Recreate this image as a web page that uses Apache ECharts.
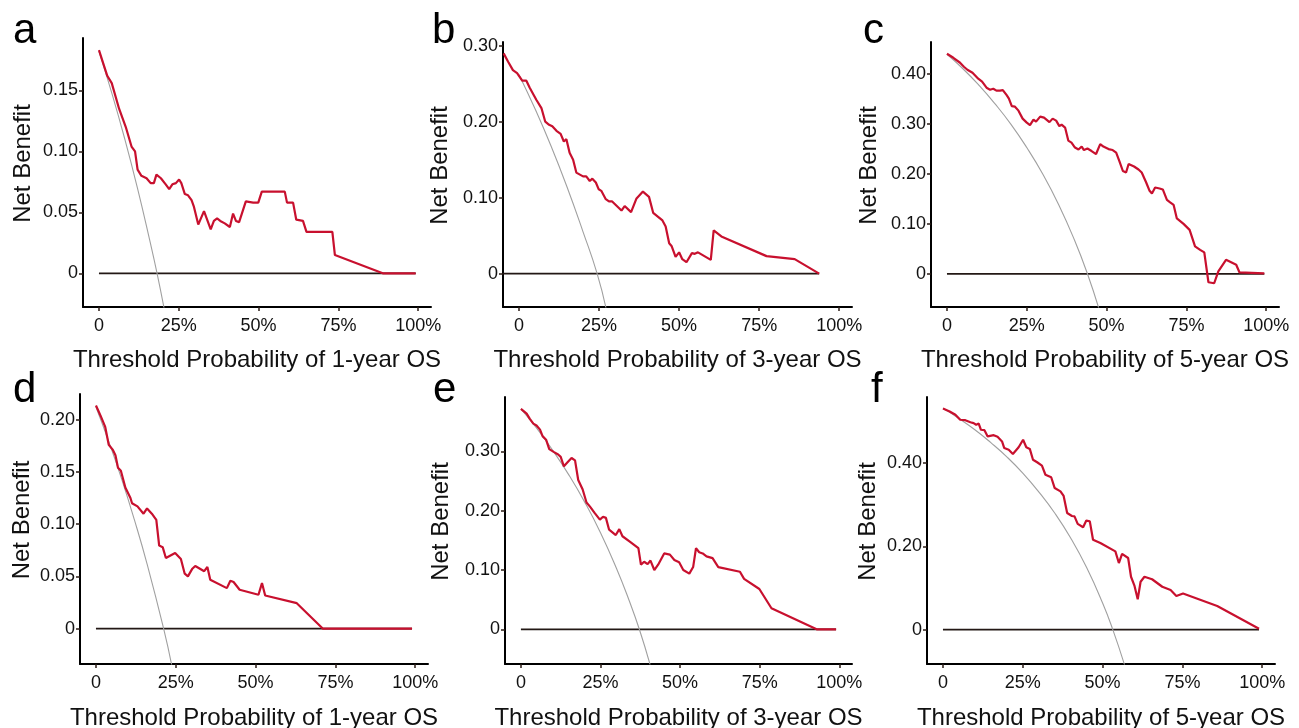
<!DOCTYPE html>
<html>
<head>
<meta charset="utf-8">
<script src="https://cdn.jsdelivr.net/npm/echarts@6/dist/echarts.min.js"></script>
<style>
  html, body { margin: 0; padding: 0; background: #fff; }
  #main { width: 1299px; height: 728px; }
</style>
</head>
<body>
<div id="main"></div>
<script>
// x = threshold probability, y = net benefit
var xTicks = [0, 0.25, 0.5, 0.75, 1];

var yTicksA = [0, 0.05, 0.10, 0.15];
var modelA = [[0,0.183],[0.026,0.162],[0.040,0.156],[0.063,0.135],[0.084,0.120],[0.102,0.104],[0.113,0.100],[0.121,0.085],[0.133,0.080],[0.149,0.078],[0.162,0.074],[0.172,0.074],[0.180,0.081],[0.194,0.078],[0.209,0.073],[0.220,0.069],[0.230,0.073],[0.241,0.074],[0.251,0.077],[0.258,0.074],[0.269,0.065],[0.279,0.064],[0.290,0.060],[0.297,0.055],[0.311,0.040],[0.329,0.051],[0.350,0.036],[0.360,0.043],[0.370,0.045],[0.380,0.043],[0.394,0.041],[0.410,0.038],[0.420,0.049],[0.429,0.043],[0.439,0.042],[0.460,0.059],[0.483,0.058],[0.499,0.058],[0.510,0.067],[0.582,0.067],[0.589,0.058],[0.608,0.058],[0.618,0.044],[0.639,0.043],[0.650,0.034],[0.731,0.034],[0.739,0.015],[0.889,0],[0.992,0]];
var allA = [[0,0.182],[0.04,0.148],[0.08,0.111],[0.12,0.0705],[0.16,0.026],[0.182,0],[0.205,-0.03]];
var noneA = [[0,0],[0.992,0]];

var yTicksB = [0, 0.1, 0.2, 0.3];
var modelB = [[-0.048,0.290],[-0.034,0.279],[-0.019,0.268],[-0.006,0.264],[0.010,0.254],[0.023,0.254],[0.033,0.245],[0.054,0.229],[0.070,0.218],[0.082,0.200],[0.094,0.196],[0.104,0.194],[0.117,0.188],[0.130,0.184],[0.140,0.174],[0.148,0.177],[0.158,0.159],[0.169,0.150],[0.179,0.133],[0.200,0.128],[0.210,0.128],[0.221,0.122],[0.229,0.125],[0.240,0.120],[0.249,0.111],[0.257,0.109],[0.271,0.098],[0.281,0.095],[0.291,0.095],[0.320,0.083],[0.330,0.089],[0.350,0.081],[0.367,0.099],[0.387,0.108],[0.406,0.101],[0.419,0.080],[0.448,0.070],[0.458,0.062],[0.469,0.040],[0.477,0.036],[0.489,0.022],[0.500,0.028],[0.510,0.019],[0.523,0.015],[0.529,0.015],[0.540,0.027],[0.549,0.026],[0.559,0.028],[0.599,0.018],[0.608,0.057],[0.632,0.049],[0.773,0.023],[0.861,0.019],[0.9375,0]];
var allB = [[0,0.262],[0.05,0.217],[0.10,0.168],[0.15,0.114],[0.20,0.055],[0.244,0],[0.272,-0.046]];
var noneB = [[-0.05,0],[0.9375,0]];

var yTicksC = [0, 0.1, 0.2, 0.3, 0.4];
var modelC = [[0,0.441],[0.020,0.433],[0.041,0.423],[0.053,0.415],[0.064,0.409],[0.080,0.403],[0.098,0.391],[0.110,0.385],[0.124,0.373],[0.135,0.369],[0.145,0.371],[0.155,0.367],[0.166,0.367],[0.175,0.368],[0.187,0.358],[0.194,0.351],[0.203,0.336],[0.213,0.335],[0.224,0.327],[0.237,0.311],[0.250,0.303],[0.260,0.298],[0.271,0.309],[0.279,0.305],[0.292,0.315],[0.304,0.313],[0.321,0.304],[0.331,0.311],[0.342,0.307],[0.352,0.296],[0.359,0.299],[0.370,0.293],[0.380,0.267],[0.390,0.263],[0.401,0.253],[0.412,0.249],[0.422,0.255],[0.429,0.248],[0.440,0.251],[0.453,0.246],[0.467,0.240],[0.480,0.260],[0.490,0.255],[0.506,0.250],[0.519,0.248],[0.530,0.243],[0.540,0.226],[0.551,0.206],[0.561,0.203],[0.569,0.220],[0.586,0.215],[0.600,0.209],[0.610,0.203],[0.624,0.183],[0.634,0.167],[0.642,0.161],[0.652,0.173],[0.666,0.171],[0.676,0.169],[0.689,0.148],[0.699,0.143],[0.710,0.138],[0.720,0.111],[0.741,0.100],[0.760,0.088],[0.777,0.055],[0.793,0.048],[0.806,0.043],[0.819,-0.017],[0.837,-0.019],[0.850,0.005],[0.874,0.028],[0.906,0.018],[0.916,0.003],[0.994,0.001]];
var allC = [[0,0.44],[0.05,0.411],[0.10,0.378],[0.15,0.341],[0.20,0.30],[0.25,0.253],[0.30,0.20],[0.35,0.1385],[0.40,0.0667],[0.44,0],[0.476,-0.07]];
var noneC = [[0,0],[0.994,0]];

var yTicksD = [0, 0.05, 0.10, 0.15, 0.20];
var modelD = [[0,0.2135],[0.014,0.204],[0.029,0.193],[0.040,0.176],[0.053,0.171],[0.061,0.166],[0.069,0.154],[0.078,0.151],[0.092,0.135],[0.108,0.125],[0.113,0.120],[0.130,0.117],[0.149,0.110],[0.160,0.115],[0.175,0.110],[0.189,0.104],[0.198,0.0795],[0.209,0.078],[0.219,0.0676],[0.248,0.0724],[0.266,0.0667],[0.278,0.0526],[0.288,0.050],[0.301,0.057],[0.311,0.060],[0.339,0.055],[0.349,0.059],[0.358,0.0468],[0.410,0.0388],[0.421,0.0458],[0.431,0.0446],[0.450,0.0372],[0.509,0.0324],[0.520,0.0436],[0.530,0.0317],[0.629,0.0244],[0.711,0],[0.990,0]];
var allD = [[0,0.212],[0.04,0.179],[0.08,0.1435],[0.12,0.1045],[0.16,0.062],[0.212,0],[0.238,-0.036]];
var noneD = [[0,0],[0.99,0]];

var yTicksE = [0, 0.1, 0.2, 0.3];
var modelE = [[0,0.372],[0.018,0.364],[0.028,0.355],[0.039,0.347],[0.049,0.344],[0.060,0.337],[0.068,0.326],[0.079,0.320],[0.089,0.304],[0.104,0.299],[0.117,0.295],[0.125,0.291],[0.135,0.275],[0.145,0.281],[0.159,0.289],[0.170,0.285],[0.180,0.252],[0.194,0.236],[0.206,0.214],[0.217,0.207],[0.232,0.196],[0.248,0.185],[0.258,0.190],[0.267,0.188],[0.277,0.168],[0.298,0.159],[0.309,0.169],[0.319,0.157],[0.342,0.148],[0.369,0.137],[0.377,0.109],[0.387,0.114],[0.398,0.110],[0.407,0.116],[0.419,0.100],[0.431,0.109],[0.450,0.128],[0.468,0.126],[0.482,0.117],[0.497,0.113],[0.510,0.100],[0.529,0.094],[0.541,0.105],[0.550,0.137],[0.560,0.130],[0.571,0.128],[0.583,0.123],[0.602,0.120],[0.620,0.105],[0.688,0.097],[0.701,0.085],[0.749,0.068],[0.787,0.0355],[0.929,0],[0.990,0]];
var allE = [[0,0.372],[0.05,0.339],[0.10,0.302],[0.15,0.261],[0.20,0.215],[0.25,0.163],[0.30,0.103],[0.34,0.0485],[0.372,0],[0.406,-0.06]];
var noneE = [[0,0],[0.99,0]];

var yTicksF = [0, 0.2, 0.4];
var modelF = [[0,0.531],[0.021,0.524],[0.039,0.516],[0.054,0.504],[0.070,0.503],[0.086,0.498],[0.096,0.496],[0.104,0.492],[0.112,0.495],[0.119,0.480],[0.130,0.479],[0.140,0.464],[0.159,0.467],[0.171,0.463],[0.185,0.452],[0.192,0.436],[0.206,0.432],[0.219,0.422],[0.237,0.438],[0.251,0.456],[0.261,0.438],[0.272,0.434],[0.282,0.408],[0.295,0.402],[0.310,0.394],[0.321,0.372],[0.339,0.366],[0.350,0.340],[0.368,0.332],[0.378,0.321],[0.389,0.280],[0.404,0.273],[0.412,0.272],[0.422,0.254],[0.439,0.246],[0.449,0.262],[0.460,0.260],[0.470,0.216],[0.493,0.208],[0.540,0.188],[0.551,0.160],[0.561,0.182],[0.580,0.172],[0.589,0.127],[0.600,0.105],[0.610,0.073],[0.619,0.115],[0.631,0.127],[0.655,0.121],[0.687,0.103],[0.713,0.095],[0.731,0.081],[0.752,0.087],[0.859,0.057],[0.990,0.002]];
var allF = [[0,0.532],[0.05,0.507],[0.10,0.48],[0.15,0.449],[0.20,0.415],[0.25,0.376],[0.30,0.331],[0.35,0.28],[0.40,0.22],[0.45,0.149],[0.50,0.064],[0.532,0],[0.569,-0.085]];
var noneF = [[0,0],[0.99,0]];

var panels = [
  { letter: 'a', lx: 13,  ly: 31,  grid: { left: 83,  top: 38,  width: 348, height: 269 }, y: [-0.0276, 0.193], yTicks: yTicksA, model: modelA, all: allA, none: noneA, yr: '1-year', gap: 48, xgap: 41 },
  { letter: 'b', lx: 432, ly: 31,  grid: { left: 503, top: 42,  width: 349, height: 265 }, y: [-0.044, 0.305],  yTicks: yTicksB, model: modelB, all: allB, none: noneB, yr: '3-year', gap: 51, xgap: 41 },
  { letter: 'c', lx: 863, ly: 31,  grid: { left: 931, top: 42,  width: 348, height: 265 }, y: [-0.0666, 0.4646], yTicks: yTicksC, model: modelC, all: allC, none: noneC, yr: '5-year', gap: 50, xgap: 41 },
  { letter: 'd', lx: 13,  ly: 390, grid: { left: 80,  top: 394, width: 348, height: 270 }, y: [-0.0338, 0.2245], yTicks: yTicksD, model: modelD, all: allD, none: noneD, yr: '1-year', gap: 46, xgap: 42 },
  { letter: 'e', lx: 433, ly: 390, grid: { left: 505, top: 397, width: 347, height: 267 }, y: [-0.0586, 0.392],  yTicks: yTicksE, model: modelE, all: allE, none: noneE, yr: '3-year', gap: 52, xgap: 42 },
  { letter: 'f', lx: 871, ly: 390, grid: { left: 927, top: 397, width: 348, height: 267 }, y: [-0.0825, 0.5587], yTicks: yTicksF, model: modelF, all: allF, none: noneF, yr: '5-year', gap: 47, xgap: 42 }
];

var FONT = '"Liberation Sans", Arial, sans-serif';
var TXT = '#111';

var grids = [], xAxes = [], yAxes = [], series = [], graphics = [];

panels.forEach(function (p, i) {
  grids.push(Object.assign({ outerBoundsMode: 'none', containLabel: false }, p.grid));
  xAxes.push({
    type: 'value', gridIndex: i, min: -0.05, max: 1.04,
    name: 'Threshold Probability of ' + p.yr + ' OS',
    nameLocation: 'middle', nameGap: p.xgap,
    nameTextStyle: { fontFamily: FONT, fontSize: 24, color: TXT },
    axisLine: { show: true, onZero: false, lineStyle: { color: '#000', width: 2 } },
    axisTick: { show: true, length: 4, customValues: xTicks, lineStyle: { color: '#2b1d16', width: 1.5 } },
    axisLabel: {
      customValues: xTicks, margin: 10, fontFamily: FONT, fontSize: 18, color: TXT,
      formatter: function (v) { return v === 0 ? '0' : Math.round(v * 100) + '%'; }
    },
    splitLine: { show: false }
  });
  yAxes.push({
    type: 'value', gridIndex: i, min: p.y[0], max: p.y[1],
    name: 'Net Benefit', nameLocation: 'middle', nameGap: p.gap,
    nameTextStyle: { fontFamily: FONT, fontSize: 24, color: TXT, padding: [0, 0, 0, 18] },
    axisLine: { show: true, onZero: false, lineStyle: { color: '#000', width: 2 } },
    axisTick: { show: true, length: 4, customValues: p.yTicks, lineStyle: { color: '#2b1d16', width: 1.5 } },
    axisLabel: {
      customValues: p.yTicks, margin: 5, fontFamily: FONT, fontSize: 18, color: TXT,
      formatter: function (v) { return v === 0 ? '0' : v.toFixed(2); }
    },
    splitLine: { show: false }
  });
  series.push({
    type: 'line', xAxisIndex: i, yAxisIndex: i, data: p.none, showSymbol: false, silent: true,
    lineStyle: { color: '#231815', width: 1.8 }, z: 2
  });
  series.push({
    type: 'line', xAxisIndex: i, yAxisIndex: i, data: p.all, showSymbol: false, smooth: true, silent: true,
    lineStyle: { color: '#a0a0a0', width: 1.1 }, z: 3
  });
  series.push({
    type: 'line', xAxisIndex: i, yAxisIndex: i, data: p.model, showSymbol: false, silent: true,
    lineStyle: { color: '#c8102e', width: 2.2 }, z: 4
  });
  graphics.push({
    type: 'text', left: p.lx, top: p.ly - 21,
    style: { text: p.letter, font: '42px ' + FONT, fill: '#000' }
  });
});

var myChart = echarts.init(document.getElementById('main'), null, { renderer: 'canvas' });
myChart.setOption({
  animation: false,
  backgroundColor: '#fff',
  grid: grids,
  xAxis: xAxes,
  yAxis: yAxes,
  series: series,
  graphic: graphics
});
</script>
</body>
</html>
